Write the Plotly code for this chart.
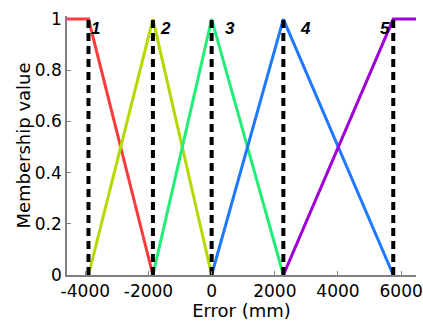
import plotly.graph_objects as go

# Data
centers = [-3900, -1860, 0, 2270, 5750]
x_min, x_max = -4580, 6470
labels = ["1", "2", "3", "4", "5"]
label_x = [-3680, -1450, 580, 2980, 5490]
label_y = 0.965
colors = ["#FF3A3A", "#B4D800", "#22EE77", "#1F78FF", "#A000D6"]
xticks = [-4000, -2000, 0, 2000, 4000, 6000]
yticks = [0, 0.2, 0.4, 0.6, 0.8, 1]
ytick_text = ["0", "0.2", "0.4", "0.6", "0.8", "1"]

p = centers
mfs = [
    ([x_min, p[0], p[1]], [1, 1, 0]),
    ([p[0], p[1], p[2]], [0, 1, 0]),
    ([p[1], p[2], p[3]], [0, 1, 0]),
    ([p[2], p[3], p[4]], [0, 1, 0]),
    ([p[3], p[4], x_max], [0, 1, 1]),
]

FONT = "DejaVu Sans, sans-serif"
LFONT = "Liberation Sans, Arial, sans-serif"

fig = go.Figure()
for (xs, ys), c in zip(mfs, colors):
    fig.add_trace(go.Scatter(x=xs, y=ys, mode="lines", cliponaxis=False,
                             line=dict(color=c, width=3), showlegend=False))

for cx in centers:
    fig.add_trace(go.Scatter(x=[cx, cx], y=[0, 1], mode="lines",
                             line=dict(color="black", width=4, dash="8px,5px"),
                             showlegend=False))

for lx, lt in zip(label_x, labels):
    fig.add_annotation(x=lx, y=label_y, text="<b><i>" + lt + "</i></b>",
                       showarrow=False, font=dict(size=17, color="black", family=LFONT))

fig.update_layout(
    width=423, height=321,
    margin=dict(l=67, r=7, t=16, b=46, autoexpand=False),
    paper_bgcolor="white", plot_bgcolor="white",
    font=dict(family=FONT, size=17, color="black"),
    xaxis=dict(range=[x_min, x_max], tickvals=xticks,
               ticktext=[str(v) for v in xticks],
               showgrid=False, zeroline=False, showline=True,
               linecolor="#808080", linewidth=1.5,
               ticks="inside", ticklen=4, tickcolor="#808080",
               automargin=False,
               title=dict(text="Error (mm)", standoff=0, font=dict(size=18)),
               tickfont=dict(size=17)),
    yaxis=dict(range=[0, 1.012], tickvals=yticks, ticktext=ytick_text,
               showgrid=False, zeroline=False, showline=True,
               linecolor="#808080", linewidth=1.5,
               ticks="inside", ticklen=4, tickcolor="#808080",
               automargin=False,
               title=dict(text="Membership value", standoff=0, font=dict(size=18)),
               tickfont=dict(size=17)),
)

fig.write_html("out.html", config={"displayModeBar": False},
               post_script="document.body.style.margin='0';")
